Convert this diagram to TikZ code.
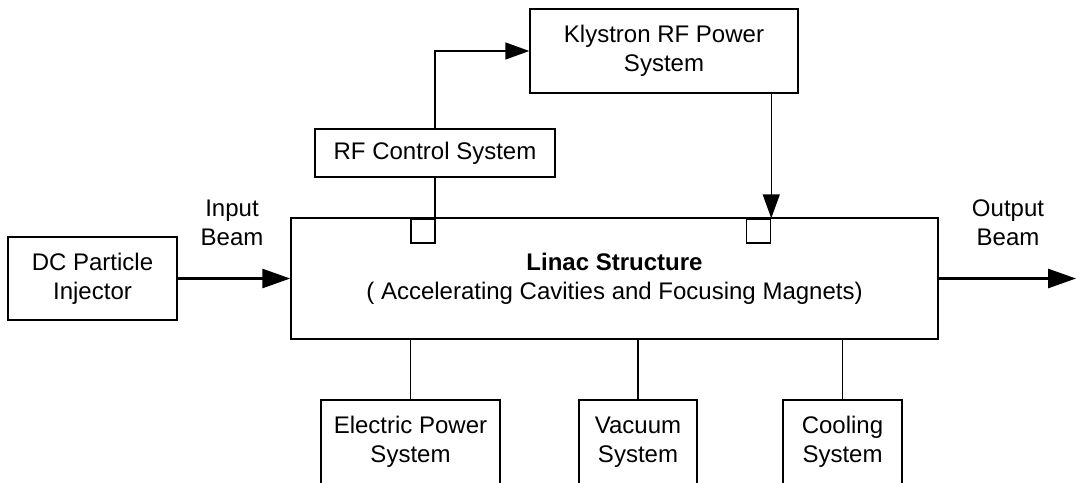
\documentclass[tikz,border=0pt]{standalone}
\usepackage{fontspec}
\setmainfont{Liberation Sans}
\usetikzlibrary{arrows.meta}
\begin{document}
\begin{tikzpicture}[x=1pt,y=-1pt,
  box/.style={draw,line width=1.5pt,align=center,inner sep=0pt,font=\fontsize{24}{29}\selectfont},
  smallbox/.style={draw,line width=1.5pt,inner sep=0pt,minimum width=24pt,minimum height=24pt},
  openbox/.style={box,anchor=north,text height=46pt,text depth=70pt,inner ysep=17pt},
  lbl/.style={align=center,inner sep=0pt,anchor=base,font=\fontsize{24}{29}\selectfont},
  conn/.style={line width=1.5pt},
  beam/.style={line width=2.8pt,-{Triangle[length=28pt,width=19pt]}},
  sig/.style={line width=1.5pt,-{Triangle[length=24pt,width=17pt]}}]
\useasboundingbox (0,0) rectangle (1076,482);
\clip (0,0) rectangle (1076,482);
\node[box,minimum width=169pt,minimum height=83pt] (inj) at (92.5,278.5) {DC Particle\\Injector};
\node[box,minimum width=647pt,minimum height=121pt] (linac) at (614.5,278.5) {\textbf{Linac Structure}\\( Accelerating Cavities and Focusing Magnets)};
\node[box,minimum width=240pt,minimum height=48pt] (rfc) at (435,153) {RF Control System};
\node[box,minimum width=268pt,minimum height=84pt] (kly) at (664,51) {Klystron RF Power\\System};
\node[smallbox] (sm1) at (423,231) {};
\node[smallbox] (sm2) at (758.5,231) {};
\node[openbox,minimum width=179pt] (ep) at (410.5,399) {Electric Power\\System};
\node[openbox,minimum width=118pt] (vac) at (638,399) {Vacuum\\System};
\node[openbox,minimum width=119pt] (cool) at (842.5,399) {Cooling\\System};
\node[lbl] (inlbl) at (232,245) {Input\\Beam};
\node[lbl] (outlbl) at (1008,245) {Output\\Beam};
\coordinate (outend) at (1076,278.5);
\draw[beam] (inj.east) -- (linac.west);
\draw[beam] (linac.east) -- (outend);
\draw[sig] (rfc.north) |- (kly.west);
\draw[conn] (rfc.south) -- (rfc.south |- linac.north);
\draw[sig] (sm2.north east |- kly.south) -- (sm2.north east);
\draw[conn] (ep.north) -- (ep.north |- linac.south);
\draw[conn] (vac.north) -- (vac.north |- linac.south);
\draw[conn] (cool.north) -- (cool.north |- linac.south);
\end{tikzpicture}
\end{document}
